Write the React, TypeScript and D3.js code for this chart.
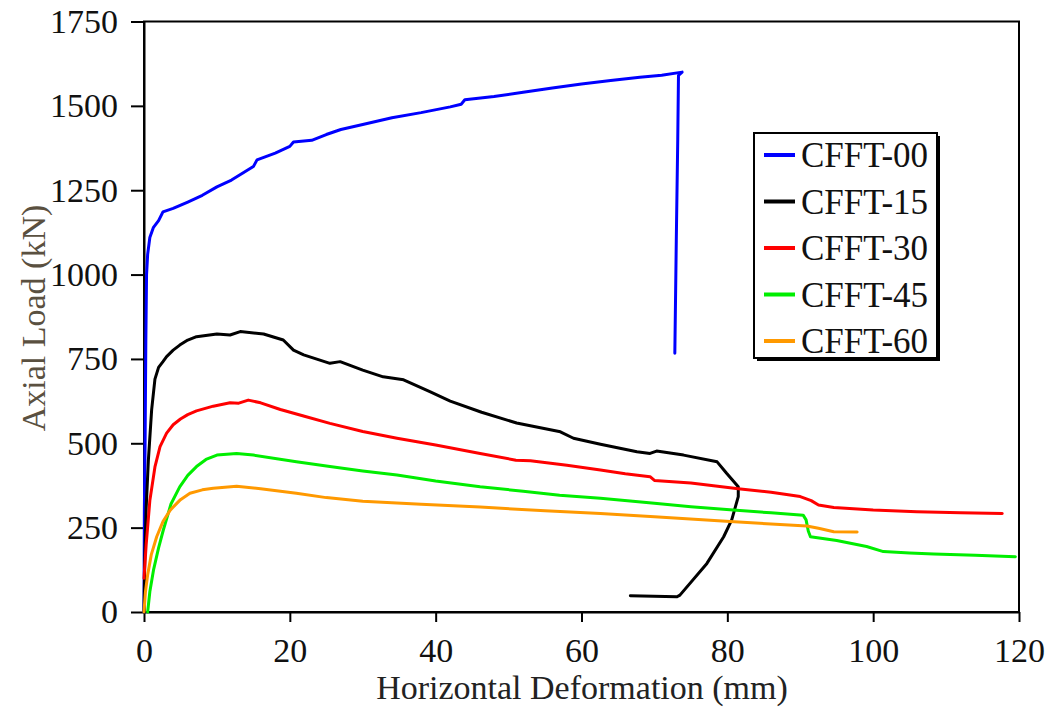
import React, { useEffect, useRef } from "react";
import * as d3 from "d3";

// Load–deformation curves, [horizontal deformation (mm), axial load (kN)]
const cfft00: [number, number][] = [
  [0, 0], [0.05, 300], [0.15, 500], [0.25, 800], [0.35, 1000], [0.5, 1060], [0.8, 1110],
  [1.3, 1140], [2.0, 1160], [2.6, 1186], [4, 1196], [6, 1215], [8, 1235], [10, 1260],
  [12, 1280], [13.5, 1300], [15, 1320], [15.5, 1340], [18, 1360], [20, 1380], [20.5, 1393],
  [23, 1398], [25, 1415], [27, 1430], [30, 1445], [34, 1465], [38, 1480], [42, 1497],
  [43.5, 1505], [44, 1518], [48, 1528], [52, 1540], [56, 1553], [60, 1565], [64, 1575],
  [68, 1585], [71, 1591], [73.8, 1600], [73.3, 1590], [73.2, 1400], [73.0, 1100], [72.8, 767],
];

const cfft15: [number, number][] = [
  [0, 0], [0.1, 150], [0.3, 310], [0.6, 450], [1.05, 600], [1.5, 690], [2.0, 725], [2.6, 742],
  [3.1, 757], [4.0, 776], [4.9, 791], [6, 806], [7.2, 816], [10, 824], [11.8, 821], [13.2, 831],
  [16.4, 824], [19.1, 806], [20.5, 776], [21.9, 762], [25.5, 737], [26.9, 742], [30, 717],
  [32.8, 697], [35.6, 688], [39.2, 653], [42, 625], [46.3, 592], [51.1, 560], [57.1, 534],
  [58.9, 515], [62.6, 497], [67.6, 475], [69.4, 470], [70.3, 477], [74, 465], [78.6, 445],
  [79.9, 411], [81.5, 371], [81.5, 342], [80.6, 273], [79.5, 223], [77.2, 144], [73.5, 50],
  [73.1, 45], [66.7, 48],
];

const cfft30: [number, number][] = [
  [0, 100], [0.3, 200], [0.8, 330], [1.5, 430], [2.2, 490], [3.1, 530], [4, 555], [5, 572],
  [6, 585], [7.2, 596], [9.5, 610], [11.8, 620], [13, 619], [14.3, 628], [16, 620],
  [18.7, 600], [22, 580], [25.5, 559], [30, 535], [34.7, 515], [40, 495], [46.1, 470],
  [51, 450], [53, 448], [58, 435], [62.6, 421], [66, 410], [69.4, 401], [70, 390], [75, 382],
  [81.5, 365], [86, 355], [90, 342], [91.5, 330], [92.5, 317], [94.6, 310], [100, 302],
  [106, 297], [112, 294], [117.7, 292],
];

const cfft45: [number, number][] = [
  [0.5, 0], [0.8, 60], [1.3, 124], [2, 190], [2.65, 243], [3.7, 320], [4.9, 371], [6, 405],
  [7.2, 431], [8.5, 452], [10, 465], [12.7, 470], [15, 465], [20.9, 445], [25.5, 431],
  [30, 418], [34.7, 406], [40, 388], [46.1, 371], [52, 358], [57, 346], [62.6, 337],
  [70, 322], [75, 312], [80.8, 302], [86, 294], [90.4, 287], [90.8, 273], [91.1, 240],
  [91.4, 223], [95, 212], [99.1, 194], [101.4, 179], [105, 175], [108.3, 172], [114, 168],
  [119.5, 164],
];

const cfft60: [number, number][] = [
  [0, 0], [0.2, 60], [0.5, 110], [1, 170], [1.74, 223], [2.6, 268], [3.6, 302], [5, 333],
  [6.3, 352], [8, 362], [9.5, 367], [12.7, 373], [16, 365], [20.9, 352], [25, 339],
  [30, 328], [38, 319], [46.1, 311], [55, 300], [62.6, 292], [70, 282], [80.4, 268],
  [86, 261], [90.9, 255], [92.5, 248], [94.6, 238], [97.8, 237],
];

const seriesNames = ["CFFT-00", "CFFT-15", "CFFT-30", "CFFT-45", "CFFT-60"];
const seriesColors = ["#0000ff", "#000000", "#ff0000", "#00ee00", "#ff9900"];
const seriesData = [cfft00, cfft15, cfft30, cfft45, cfft60];

const xTicks = [0, 20, 40, 60, 80, 100, 120];
const yTicks = [0, 250, 500, 750, 1000, 1250, 1500, 1750];

const W = 1051;
const H = 709;
const FONT = "'Liberation Serif', 'Times New Roman', serif";

export default function App() {
  const ref = useRef<SVGSVGElement | null>(null);

  useEffect(() => {
    const svg = d3.select(ref.current);
    svg.selectAll("*").remove();

    const left = 144, right = 1019, top = 21.5, bottom = 612;
    const x = d3.scaleLinear().domain([0, 120]).range([left, right]);
    const y = d3.scaleLinear().domain([0, 1750]).range([bottom, top]);

    svg.append("rect").attr("width", W).attr("height", H).attr("fill", "#fff");

    // plot frame
    svg.append("rect")
      .attr("x", left).attr("y", top)
      .attr("width", right - left).attr("height", bottom - top)
      .attr("fill", "none").attr("stroke", "#000").attr("stroke-width", 2);

    // y axis
    const yAxis = svg.append("g")
      .attr("transform", `translate(${left},0)`)
      .call(
        d3.axisLeft(y).tickValues(yTicks).tickFormat(d3.format("d"))
          .tickSize(13).tickPadding(13).tickSizeOuter(0)
      );
    yAxis.select(".domain").attr("stroke", "#000").attr("stroke-width", 2);
    yAxis.selectAll(".tick line").attr("stroke", "#000").attr("stroke-width", 2);
    yAxis.selectAll(".tick text")
      .attr("font-family", FONT).attr("font-size", 34).attr("fill", "#111");

    // x axis
    const xAxis = svg.append("g")
      .attr("transform", `translate(0,${bottom})`)
      .call(
        d3.axisBottom(x).tickValues(xTicks).tickFormat(d3.format("d"))
          .tickSize(10).tickPadding(16).tickSizeOuter(0)
      );
    xAxis.select(".domain").attr("stroke", "#000").attr("stroke-width", 2);
    xAxis.selectAll(".tick line").attr("stroke", "#000").attr("stroke-width", 2);
    xAxis.selectAll(".tick text")
      .attr("font-family", FONT).attr("font-size", 34).attr("fill", "#111");

    // curves
    const line = d3.line<[number, number]>()
      .x((d) => x(d[0]))
      .y((d) => y(d[1]))
      .curve(d3.curveLinear);

    seriesData.forEach((data, i) => {
      svg.append("path")
        .datum(data)
        .attr("d", line)
        .attr("fill", "none")
        .attr("stroke", seriesColors[i])
        .attr("stroke-width", 3)
        .attr("stroke-linejoin", "round")
        .attr("stroke-linecap", "round");
    });

    // axis titles
    svg.append("text")
      .attr("x", 582).attr("y", 699)
      .attr("text-anchor", "middle")
      .attr("font-family", FONT).attr("font-size", 34).attr("fill", "#222")
      .text("Horizontal Deformation (mm)");

    svg.append("text")
      .attr("transform", "translate(45,318) rotate(-90)")
      .attr("text-anchor", "middle")
      .attr("font-family", FONT).attr("font-size", 34).attr("fill", "#5a5040")
      .text("Axial Load (kN)");

    // legend
    const lx = 754, ly = 133, lw = 183, lh = 225;
    svg.append("rect")
      .attr("x", lx + 3).attr("y", ly + 3).attr("width", lw).attr("height", lh)
      .attr("fill", "#000");
    svg.append("rect")
      .attr("x", lx).attr("y", ly).attr("width", lw).attr("height", lh)
      .attr("fill", "#fff").attr("stroke", "#000").attr("stroke-width", 2);

    seriesNames.forEach((name, i) => {
      const cy = ly + 22 + i * 46.5;
      svg.append("line")
        .attr("x1", lx + 10).attr("x2", lx + 41)
        .attr("y1", cy).attr("y2", cy)
        .attr("stroke", seriesColors[i]).attr("stroke-width", 4);
      svg.append("text")
        .attr("x", lx + 47).attr("y", cy + 12)
        .attr("font-family", FONT).attr("font-size", 35).attr("fill", "#111")
        .text(name);
    });
  }, []);

  return (
    <svg
      ref={ref}
      width={W}
      height={H}
      style={{ position: "absolute", left: 0, top: 0, display: "block" }}
    />
  );
}
